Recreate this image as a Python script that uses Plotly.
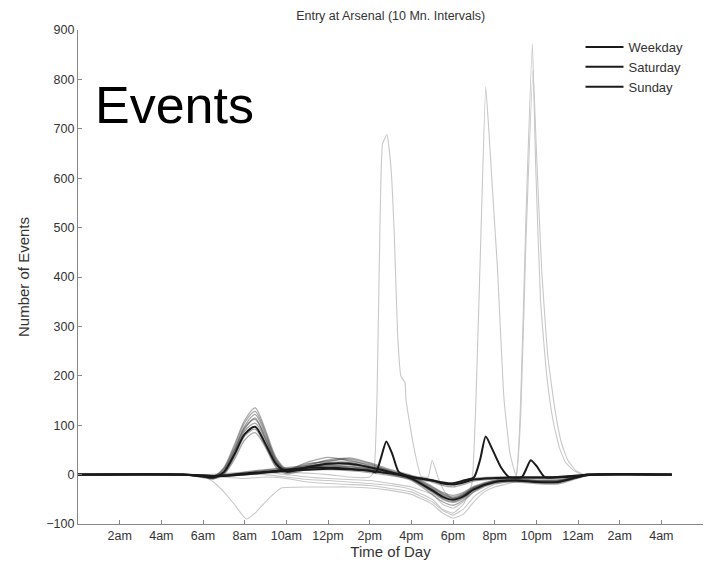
import plotly.graph_objects as go

# ---------------- data (hours of day; values = number of events) ----------------
grid = [0, 5, 6, 6.5, 7, 7.5, 8, 8.5, 9, 9.5, 10, 11, 12, 13, 14, 15, 16, 17, 17.5,
        18, 18.5, 19, 20, 21, 22, 23, 24, 24.5, 28.5]

weekday_mean = [0, 0, -4, -6, 5, 40, 82, 97, 62, 22, 6, 15, 22, 22, 15, 5, -8, -32, -45,
                -51, -44, -30, -15, -12, -15, -15, -5, -1, 0]
sunday_mean = [0, 0, -2, -3, -2, 0, 2, 4, 6, 8, 10, 14, 14, 12, 8, 2, -5, -12, -18,
               -20, -16, -10, -7, -6, -6, -5, -2, 0, 0]

weekday_1 = [0, 0, -3, -4, 10, 50, 95, 112, 75, 28, 8, 20, 28, 30, 18, 6, -6, -30, -42, -48, -40, -28, -14, -12, -14, -14, -5, -1, 0]
weekday_2 = [0, 0, -5, -8, 2, 35, 78, 92, 58, 18, 4, 12, 18, 20, 12, 3, -10, -36, -50, -56, -48, -32, -16, -13, -16, -17, -6, -1, 0]
weekday_3 = [0, 0, -2, -3, 12, 55, 105, 128, 85, 30, 10, 25, 35, 28, 20, 8, -4, -26, -38, -45, -38, -26, -12, -10, -12, -12, -4, 0, 0]
weekday_4 = [0, 0, -4, -7, 4, 42, 88, 104, 70, 25, 6, 16, 24, 25, 16, 4, -9, -34, -48, -54, -46, -31, -15, -11, -14, -16, -6, -1, 0]
weekday_5 = [0, 0, -3, -5, 8, 48, 98, 122, 80, 32, 9, 18, 30, 32, 22, 7, -5, -28, -40, -47, -41, -27, -13, -11, -13, -13, -5, 0, 0]
weekday_6 = [0, 0, -6, -9, 0, 30, 70, 85, 55, 15, 2, 10, 15, 17, 10, 0, -12, -40, -55, -62, -52, -35, -18, -15, -18, -19, -7, -2, 0]
weekday_7 = [0, 0, -2, -4, 14, 60, 110, 135, 90, 35, 12, 22, 26, 34, 24, 10, -2, -24, -36, -42, -36, -24, -11, -9, -11, -11, -4, 0, 0]
weekday_8 = [0, 0, -4, -6, 6, 45, 92, 115, 72, 26, 7, 14, 20, 24, 14, 5, -7, -30, -44, -50, -43, -29, -14, -12, -15, -15, -5, -1, 0]

weekend_1 = [0, 0, -1, -2, 0, 2, 5, 8, 10, 12, 14, 18, 20, 16, 12, 5, -2, -10, -15, -17, -14, -8, -5, -4, -4, -4, -1, 0, 0]
weekend_2 = [0, 0, -3, -5, -4, -2, 0, 1, 3, 5, 7, 10, 10, 8, 4, -2, -8, -15, -22, -25, -20, -13, -9, -8, -8, -7, -3, 0, 0]
weekend_3 = [0, 0, -2, -3, -1, 1, 3, 6, 9, 11, 12, 16, 17, 14, 10, 4, -4, -11, -16, -19, -15, -9, -6, -5, -5, -5, -2, 0, 0]

saturday_t = [0, 5, 6, 7, 8, 9, 10, 11, 12, 13, 14, 14.3, 14.55, 14.8, 15.1, 15.4, 16, 17,
              17.9, 18.5, 19.0, 19.3, 19.57, 19.9, 20.3, 20.7, 21.3, 21.5, 21.73, 22.0,
              22.4, 23, 24, 24.5, 28.5]
saturday_mean = [0, 0, -2, -3, 0, 4, 8, 10, 12, 11, 8, 5, 35, 67, 40, 5, -5, -12,
                 -18, -12, -6, 30, 77, 50, 15, -5, -5, 10, 29, 18, -5, -6, -3, 0, 0]

event_a_t = [0, 6, 7, 8, 9, 10, 11, 12, 13, 14, 14.2, 14.35, 14.46, 14.62, 14.83, 15.02, 15.18,
             15.34, 15.5, 15.7, 15.74, 16.1, 16.46, 16.8, 17.0, 17.3, 17.6, 18, 18.5, 19, 20,
             21, 22, 23, 24, 24.5, 28.5]
event_a = [0, 0, 2, 5, 8, 5, 3, 0, -5, -5, 5, 152, 421, 670, 688, 623, 488,
           286, 199, 186, 152, 60, -3, -5, 29, -8, -35, -50, -40, -25, -15,
           -10, -8, -6, -3, 0, 0]

event_b_t = [0, 6, 7, 8, 9, 10, 11, 12, 13, 14, 15, 16, 17, 17.5, 18, 18.5, 18.9, 19.1, 19.35,
             19.57, 19.73, 19.95, 20.13, 20.45, 20.75, 21.1, 22, 23, 24, 24.5, 28.5]
event_b = [0, 0, -3, 0, 0, -5, -10, -12, -15, -18, -22, -30, -50, -70, -78, -60, -20, 150, 500,
           785, 690, 540, 421, 152, 40, -8, -8, -6, -3, 0, 0]

event_c_t = [0, 6, 7, 8, 9, 10, 11, 12, 13, 14, 15, 16, 17, 17.5, 18, 18.5, 19, 19.5, 20, 20.5,
             21.0, 21.25, 21.5, 21.81, 21.97, 22.2, 22.5, 22.8, 23.1, 23.4, 23.8, 24.2, 24.5, 28.5]
event_c = [0, 0, -5, -8, -5, -8, -15, -18, -20, -22, -28, -35, -55, -72, -82, -70, -45, -30, -20, -15,
           -8, 152, 520, 872, 623, 354, 200, 110, 55, 25, 8, 0, 0, 0]

event_d_t = [0, 6, 7, 8, 9, 10, 11, 12, 13, 14, 15, 16, 17, 17.5, 18, 18.5, 19, 19.5, 20, 20.5,
             21.0, 21.25, 21.5, 21.84, 22.0, 22.25, 22.55, 22.9, 23.2, 23.5, 23.9, 24.3, 28.5]
event_d = [0, 0, 0, 2, 5, 0, -5, -8, -10, -12, -18, -25, -40, -60, -68, -55, -35, -22, -15, -12,
           -8, 120, 470, 818, 660, 420, 240, 130, 65, 30, 8, 0, 0]

holiday_t = [0, 5.5, 6, 6.5, 7, 7.5, 8.07, 8.5, 9, 9.5, 9.75, 10, 11, 12, 13, 14, 15, 16, 17,
             17.5, 18, 18.5, 19, 19.5, 20, 21, 22, 23, 24, 24.5, 28.5]
holiday = [0, 0, -2, -15, -35, -60, -90, -78, -55, -35, -27, -26, -25, -25, -25, -27, -32, -40, -60,
           -78, -88, -80, -55, -35, -25, -15, -12, -10, -5, 0, 0]

tick_hours = [2, 4, 6, 8, 10, 12, 14, 16, 18, 20, 22, 24, 26, 28]
tick_labels = ['2am', '4am', '6am', '8am', '10am', '12pm', '2pm', '4pm', '6pm', '8pm',
               '10pm', '12am', '2am', '4am']

# ---------------- figure ----------------
fig = go.Figure()
LIGHT = 'rgb(200,200,200)'
BAND = 'rgba(60,60,60,0.45)'
FONT = 'Liberation Sans, Arial, sans-serif'

for t, v in [(holiday_t, holiday), (event_a_t, event_a), (event_b_t, event_b),
             (event_c_t, event_c), (event_d_t, event_d)]:
    fig.add_trace(go.Scatter(x=t, y=v, mode='lines', showlegend=False, hoverinfo='skip',
                             line=dict(color=LIGHT, width=1.1, shape='spline', smoothing=0.4)))

for v in [weekend_1, weekend_2, weekend_3, weekday_1, weekday_2, weekday_3, weekday_4,
          weekday_5, weekday_6, weekday_7, weekday_8]:
    fig.add_trace(go.Scatter(x=grid, y=v, mode='lines', showlegend=False, hoverinfo='skip',
                             line=dict(color=BAND, width=1.3, shape='spline', smoothing=0.8)))

fig.add_trace(go.Scatter(x=grid, y=weekday_mean, mode='lines', name='Weekday',
                         line=dict(color='#1a1a1a', width=2, shape='spline', smoothing=0.8)))
fig.add_trace(go.Scatter(x=saturday_t, y=saturday_mean, mode='lines', name='Saturday',
                         line=dict(color='#1a1a1a', width=2, shape='spline', smoothing=0.6)))
fig.add_trace(go.Scatter(x=grid, y=sunday_mean, mode='lines', name='Sunday',
                         line=dict(color='#1a1a1a', width=2, shape='spline', smoothing=0.8)))

fig.add_annotation(text='Events', xref='paper', yref='paper', x=0.024, y=0.8475,
                   xanchor='left', yanchor='middle', showarrow=False,
                   font=dict(family=FONT, size=52, color='black'))

fig.update_layout(
    width=709, height=563,
    paper_bgcolor='white', plot_bgcolor='white',
    margin=dict(l=78, r=6, t=29.5, b=38.5),
    font=dict(family=FONT, size=12.5, color='#333333'),
    title=dict(text='Entry at Arsenal (10 Mn. Intervals)', x=0.551, xanchor='center',
               y=0.972, yanchor='middle', font=dict(size=12.5, color='#333333')),
    legend=dict(x=0.804, y=0.996, xanchor='left', yanchor='top', bgcolor='rgba(0,0,0,0)',
                font=dict(size=13, color='#333333'), tracegroupgap=0, itemwidth=38),
    xaxis=dict(range=[0, 30], tickvals=tick_hours, ticktext=tick_labels, ticks='inside',
               ticklen=4, tickcolor='#888888', showline=True, linecolor='#888888', linewidth=1.2,
               showgrid=False, zeroline=False, title=dict(text='Time of Day', standoff=2)),
    yaxis=dict(range=[-100, 900], tickvals=list(range(-100, 901, 100)), ticks='inside',
               ticklen=4, tickcolor='#888888', showline=True, linecolor='#888888', linewidth=1.2,
               showgrid=False, zeroline=False, title=dict(text='Number of Events', standoff=12)),
)

fig.write_html('out.html', config={'displayModeBar': False},
               post_script="document.body.style.margin='0';document.body.style.overflow='hidden';")
